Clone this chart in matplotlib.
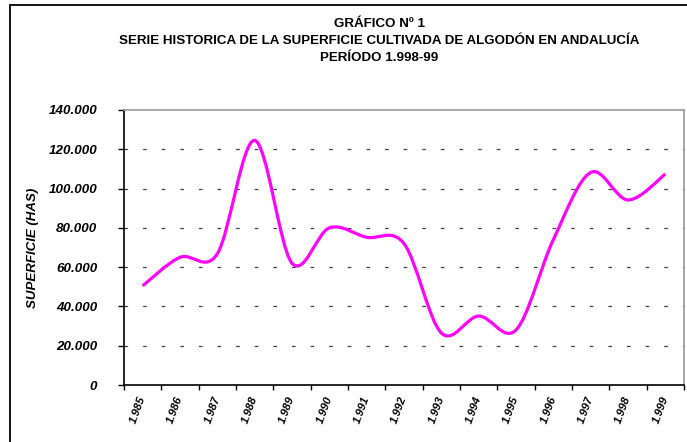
import matplotlib
matplotlib.use("Agg")
import matplotlib.pyplot as plt
from matplotlib.path import Path
from matplotlib.patches import PathPatch, Rectangle
from matplotlib.ticker import FixedLocator, FuncFormatter
import numpy as np

plt.rcParams['font.family'] = ['Liberation Sans', 'DejaVu Sans']
plt.rcParams['lines.scale_dashes'] = False

years = ["1.985", "1.986", "1.987", "1.988", "1.989", "1.990", "1.991", "1.992",
         "1.993", "1.994", "1.995", "1.996", "1.997", "1.998", "1.999"]
superficie = [50500, 65000, 66800, 124500, 62000, 80000, 75200, 72000,
              26500, 35100, 28000, 74000, 108200, 94200, 107400]
yticks = [0, 20000, 40000, 60000, 80000, 100000, 120000, 140000]

title_lines = ["GRÁFICO Nº 1",
               "SERIE HISTORICA DE LA SUPERFICIE CULTIVADA DE ALGODÓN EN ANDALUCÍA",
               "PERÍODO 1.998-99"]
ylabel = "SUPERFICIE (HAS)"

W, H = 687, 442
fig = plt.figure(figsize=(W / 100, H / 100), dpi=100)
ax = fig.add_axes([124 / W, 1 - 385 / H, (684 - 124) / W, (385 - 110) / H])

# smoothed line (Bezier spline through data points, Excel-like)
xs = np.arange(len(superficie)) + 0.5
ys = np.array(superficie, dtype=float)
n = len(xs)
verts = [(xs[0], ys[0])]
codes = [Path.MOVETO]
for i in range(n - 1):
    p0 = np.array([xs[max(i - 1, 0)], ys[max(i - 1, 0)]])
    p1 = np.array([xs[i], ys[i]])
    p2 = np.array([xs[i + 1], ys[i + 1]])
    p3 = np.array([xs[min(i + 2, n - 1)], ys[min(i + 2, n - 1)]])
    c1 = p1 + (p2 - p0) / 6.0
    c2 = p2 - (p3 - p1) / 6.0
    verts += [tuple(c1), tuple(c2), tuple(p2)]
    codes += [Path.CURVE4] * 3
ax.add_patch(PathPatch(Path(verts, codes), facecolor='none', edgecolor='#FF00FF',
                       lw=2.3, capstyle='butt', joinstyle='round', zorder=3))

ax.set_xlim(0, len(years))
ax.set_ylim(0, 140000)

# grid
for v in yticks[1:-1]:
    ax.axhline(v, color='#404040', lw=0.9, dashes=(2.6, 10.8), zorder=1)

ax.xaxis.set_major_locator(FixedLocator(np.arange(len(years) + 1)))
ax.xaxis.set_major_formatter(FuncFormatter(lambda v, p: ""))
ax.xaxis.set_minor_locator(FixedLocator(xs))
ax.set_xticks(xs, years, minor=True)
ax.tick_params(axis='x', which='major', direction='out', length=3.5, width=1, color='black')
ax.tick_params(axis='x', which='minor', length=0, pad=8)
for lab in ax.get_xticklabels(minor=True):
    lab.set_rotation(70)
    lab.set_rotation_mode('anchor')
    lab.set_ha('right')
    lab.set_va('center')
    lab.set_fontsize(8)
    lab.set_fontweight('bold')
    lab.set_fontstyle('italic')

ax.set_yticks(yticks)
ax.yaxis.set_major_formatter(FuncFormatter(lambda v, p: "0" if v == 0 else f"{int(v):,}".replace(",", ".")))
ax.tick_params(axis='y', direction='out', length=4.3, width=1, color='black', pad=15)
for lab in ax.get_yticklabels():
    lab.set_fontsize(9.6)
    lab.set_fontweight('bold')
    lab.set_fontstyle('italic')

for s in ['left', 'bottom']:
    ax.spines[s].set_color('black')
    ax.spines[s].set_linewidth(1.2)
for s in ['top', 'right']:
    ax.spines[s].set_color('#9a9a9a')
    ax.spines[s].set_linewidth(1.2)

fig.text(33 / W, 1 - 248 / H, ylabel, rotation=90, ha='center', va='center',
         fontsize=9.5, fontweight='bold', fontstyle='italic')

for t, yy in zip(title_lines, [27, 44, 61]):
    fig.text(379 / W, 1 - yy / H, t, ha='center', va='baseline', fontsize=9.6, fontweight='bold')

fig.patches.append(Rectangle((10 / W, -0.2), 1.2, 1.2 - 5 / H, transform=fig.transFigure,
                             fill=False, edgecolor='black', lw=1.3, clip_on=False))

fig.savefig("out.png", dpi=100)
